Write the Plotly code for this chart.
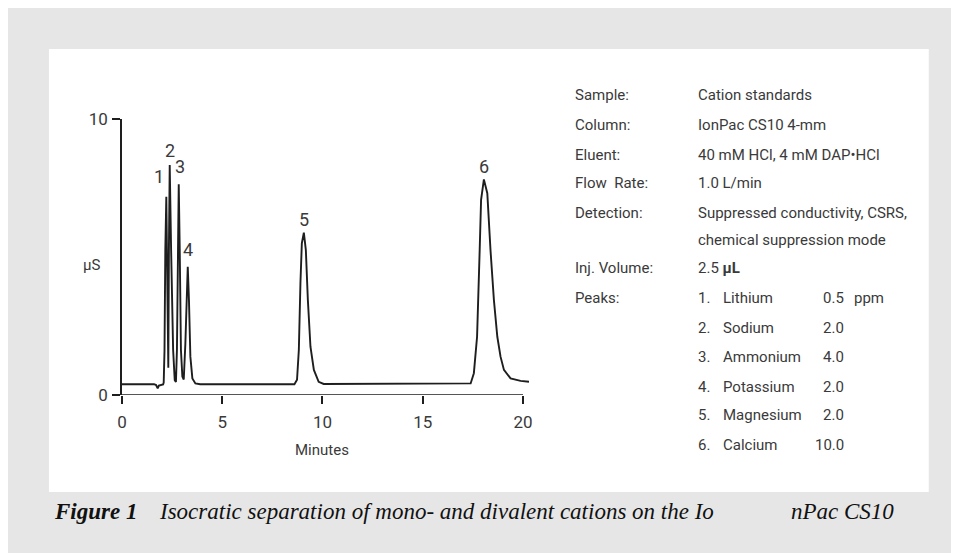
import plotly.graph_objects as go

# ---------------- data ----------------
time_min = [0.0, 1.0, 1.6, 1.70, 1.78, 1.84, 1.95, 2.05, 2.08, 2.12, 2.16, 2.21, 2.26, 2.31,
            2.34, 2.38, 2.45, 2.55, 2.63, 2.69, 2.74, 2.79, 2.83, 2.88, 2.94, 3.01, 3.08,
            3.16, 3.24, 3.28, 3.34, 3.41, 3.51, 3.66, 3.9, 5.0, 7.0, 8.6, 8.73, 8.82, 8.90,
            8.97, 9.07, 9.17, 9.27, 9.40, 9.57, 9.81, 10.06, 12.0, 15.0, 17.2, 17.39, 17.55,
            17.71, 17.84, 17.91, 18.05, 18.22, 18.38, 18.55, 18.72, 18.88, 19.05, 19.38,
            19.88, 20.3]
signal_us = [0.39, 0.39, 0.39, 0.36, 0.24, 0.34, 0.37, 0.38, 0.45, 1.6, 5.25, 7.18, 4.06, 0.99,
             5.25, 8.33, 5.25, 1.63, 0.54, 0.47, 1.63, 6.46, 7.64, 5.25, 1.63, 0.67, 0.56,
             1.86, 4.17, 4.65, 3.44, 1.39, 0.60, 0.42, 0.39, 0.39, 0.39, 0.39, 0.55, 1.63, 4.06,
             5.50, 5.88, 5.25, 3.44, 1.75, 0.91, 0.48, 0.40, 0.40, 0.40, 0.41, 0.42, 0.79,
             2.11, 5.25, 7.07, 7.81, 7.31, 5.25, 3.44, 2.11, 1.39, 0.91, 0.60,
             0.51, 0.48]

peak_labels = ["1", "2", "3", "4", "5", "6"]
peak_times = [2.21, 2.38, 2.83, 3.28, 9.07, 18.05]
peak_heights = [7.18, 8.33, 7.64, 4.65, 5.88, 7.81]

x_ticks = [0, 5, 10, 15, 20]
y_ticks = [0, 10]
x_title = "Minutes"
y_title = "µS"

info_labels = ["Sample:", "Column:", "Eluent:", "Flow\u00a0\u00a0Rate:", "Detection:", "",
               "Inj. Volume:", "Peaks:"]
info_values = ["Cation standards", "IonPac CS10 4-mm", "40 mM HCl, 4 mM DAP\u2022HCl",
               "1.0 L/min", "Suppressed conductivity, CSRS,", "chemical suppression mode",
               "2.5 <b>µL</b>", ""]
peak_numbers = ["1.", "2.", "3.", "4.", "5.", "6."]
peak_names = ["Lithium", "Sodium", "Ammonium", "Potassium", "Magnesium", "Calcium"]
peak_conc = ["0.5", "2.0", "4.0", "2.0", "2.0", "10.0"]
conc_unit = "ppm"

caption_bold = "Figure 1"
caption_main = "Isocratic separation of mono- and divalent cations on the Io"
caption_end = "nPac CS10"

# ---------------- layout geometry (page pixels; page has an 8px body margin) ----------------
OFF = 8
W, H = 959 - OFF, 553 - OFF
L, T = 122 - OFF, 119 - OFF
X_MAX = 20.35
PLOT_W = X_MAX * 20.03
PLOT_H = 276
R = W - (L + PLOT_W)
B = H - (T + PLOT_H)

def px(xpage):
    return (xpage - OFF - L) / PLOT_W

def py(ypage):
    return (T + PLOT_H - (ypage - OFF)) / PLOT_H

SANS = "Roboto, Liberation Sans, sans-serif"
SERIF = "Liberation Serif, Times New Roman, serif"
TXT = "#3a3a3a"
SF = 15

fig = go.Figure()
fig.add_trace(go.Scatter(x=time_min, y=signal_us, mode="lines",
                         line=dict(color="#1e1e1e", width=1.9), hoverinfo="skip",
                         cliponaxis=False))

annotations = []
shifts = [(-7, 20), (0, 15), (1, 18), (0, 17), (0, 13), (0, 13)]
for lab, t, h, (dx, dy) in zip(peak_labels, peak_times, peak_heights, shifts):
    annotations.append(dict(x=t, y=h, xref="x", yref="y", text=lab, showarrow=False,
                            xshift=dx, yshift=dy, yanchor="middle", xanchor="center",
                            font=dict(family=SANS, size=18, color=TXT)))

annotations.append(dict(x=px(92), y=py(265), xref="paper", yref="paper", text=y_title,
                        showarrow=False, xanchor="center", yanchor="middle",
                        font=dict(family=SANS, size=SF, color=TXT)))
annotations.append(dict(x=px(322), y=py(450), xref="paper", yref="paper", text=x_title,
                        showarrow=False, xanchor="center", yanchor="middle",
                        font=dict(family=SANS, size=SF, color=TXT)))

info_rows_y = [95, 125, 155, 183, 213, 240, 268, 298]
for lab, val, yy in zip(info_labels, info_values, info_rows_y):
    if lab:
        annotations.append(dict(x=px(573), y=py(yy), xref="paper", yref="paper", text=lab,
                                showarrow=False, xanchor="left", yanchor="middle",
                                font=dict(family=SANS, size=SF, color=TXT)))
    if val:
        annotations.append(dict(x=px(695), y=py(yy), xref="paper", yref="paper", text=val,
                                showarrow=False, xanchor="left", yanchor="middle",
                                font=dict(family=SANS, size=SF, color=TXT)))
peak_rows_y = [298, 328, 357, 387, 415, 445]
for i, (n, nm, c, yy) in enumerate(zip(peak_numbers, peak_names, peak_conc, peak_rows_y)):
    for txt, xx, anc in [(n, 695, "left"), (nm, 720, "left"), (c, 845, "right")]:
        annotations.append(dict(x=px(xx), y=py(yy), xref="paper", yref="paper", text=txt,
                                showarrow=False, xanchor=anc, yanchor="middle",
                                font=dict(family=SANS, size=SF, color=TXT)))
    if i == 0:
        annotations.append(dict(x=px(851), y=py(yy), xref="paper", yref="paper", text=conc_unit,
                                showarrow=False, xanchor="left", yanchor="middle",
                                font=dict(family=SANS, size=SF, color=TXT)))

CF = 23
annotations.append(dict(x=px(52), y=py(512), xref="paper", yref="paper",
                        text="<b><i>" + caption_bold + "</i></b>", showarrow=False,
                        xanchor="left", yanchor="middle",
                        font=dict(family=SERIF, size=CF, color="#111")))
annotations.append(dict(x=px(157), y=py(512), xref="paper", yref="paper",
                        text="<i>" + caption_main + "</i>", showarrow=False,
                        xanchor="left", yanchor="middle",
                        font=dict(family=SERIF, size=CF, color="#111")))
annotations.append(dict(x=px(895), y=py(512), xref="paper", yref="paper",
                        text="<i>" + caption_end + "</i>", showarrow=False,
                        xanchor="right", yanchor="middle",
                        font=dict(family=SERIF, size=CF, color="#111")))

shapes = [
    dict(type="rect", xref="paper", yref="paper", x0=px(49), x1=px(928), y0=py(492), y1=py(49),
         fillcolor="white", line=dict(width=0), layer="below"),
    dict(type="line", xref="x", yref="y", x0=x_ticks[0], x1=x_ticks[-1], y0=0, y1=0,
         line=dict(color="#1e1e1e", width=1.6)),
]

fig.update_layout(
    width=W, height=H,
    margin=dict(l=L, r=R, t=T, b=B, pad=0),
    paper_bgcolor="#e6e6e6", plot_bgcolor="rgba(0,0,0,0)",
    showlegend=False,
    annotations=annotations, shapes=shapes,
    xaxis=dict(range=[0, X_MAX], tickvals=x_ticks, ticks="outside", ticklen=8, tickwidth=1.6,
               tickcolor="#1e1e1e", showline=False, showgrid=False, zeroline=False,
               ticklabelstandoff=4, tickfont=dict(family=SANS, size=17, color=TXT)),
    yaxis=dict(range=[0, 10], tickvals=y_ticks, ticks="outside", ticklen=8, tickwidth=1.6,
               tickcolor="#1e1e1e", showline=True, linecolor="#1e1e1e", linewidth=1.6,
               showgrid=False, zeroline=False, ticklabelstandoff=1,
               tickfont=dict(family=SANS, size=17, color=TXT)),
)

fig.write_html("out.html")
